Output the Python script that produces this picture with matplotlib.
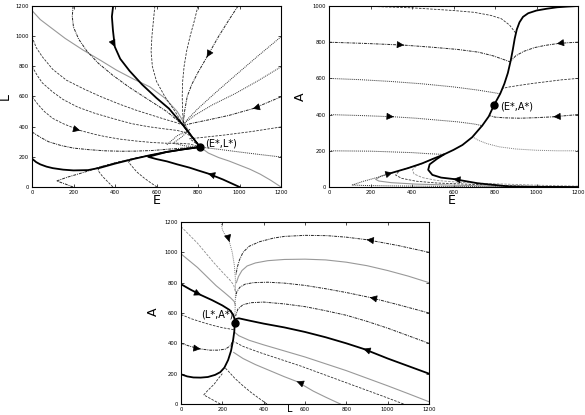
import numpy as np
import matplotlib
matplotlib.use("Agg")
from matplotlib import pyplot as plt

# ----------- data -----------
# panel 1 : E - L plane, equilibrium (E*, L*)
eq_el = (810, 265)
el_gray_top = ([0, 40, 85, 160, 246, 330, 407, 490, 568, 640, 700, 735, 770, 810],
               [1170, 1110, 1063, 985, 908, 840, 775, 715, 664, 590, 500, 420, 335, 265])
el_black_top = ([391, 385, 390, 399, 425, 470, 530, 600, 660, 728, 770, 810],
                [1200, 1130, 1040, 930, 850, 770, 680, 590, 520, 410, 335, 265])
el_dash_198 = ([198, 194, 200, 225, 265, 320, 390, 470, 560, 650, 728, 770, 810],
               [1200, 1130, 1060, 980, 900, 820, 740, 660, 580, 500, 410, 335, 265])
el_dash_592 = ([592, 585, 578, 574, 580, 600, 640, 690, 728, 770, 810],
               [1200, 1100, 1000, 900, 800, 700, 600, 500, 410, 335, 265])
el_dash_800 = ([800, 782, 762, 745, 733, 726, 724, 726, 730, 770, 810],
               [1200, 1100, 1000, 900, 800, 700, 600, 500, 410, 335, 265])
el_dd_993 = ([993, 950, 900, 843, 800, 770, 748, 735, 728, 770, 810],
             [1200, 1110, 1000, 862, 760, 680, 600, 500, 410, 335, 265])
el_r1000 = ([1200, 1090, 980, 880, 800, 750, 728, 770, 810], [996, 870, 740, 620, 520, 450, 410, 335, 265])
el_r800 = ([1200, 1090, 980, 870, 790, 745, 728, 770, 810], [797, 705, 620, 545, 480, 435, 410, 335, 265])
el_r600 = ([1200, 1066, 950, 850, 780, 740, 728, 770, 810], [598, 520, 475, 445, 425, 412, 405, 335, 265])
el_r400 = ([1200, 1060, 930, 830, 760, 790, 810], [398, 368, 345, 330, 320, 290, 265])
el_r200 = ([1200, 1100, 1000, 900, 810], [199, 215, 232, 250, 265])
el_gray_1200 = ([1200, 1150, 1100, 1050, 1000, 950, 900, 850, 810], [0, 45, 85, 118, 145, 172, 195, 225, 265])
el_black_1000 = ([1000, 960, 920, 849, 800, 760, 700, 650, 600, 560, 648, 730, 810],
                 [0, 25, 50, 89, 110, 128, 150, 170, 185, 200, 232, 250, 265])
el_dash_600 = ([602, 570, 540, 505, 465, 487, 560, 648, 730, 810], [0, 30, 60, 100, 165, 188, 208, 232, 250, 265])
el_dash_390 = ([390, 365, 340, 318, 327, 400, 487, 560, 648, 730, 810], [0, 35, 70, 110, 133, 160, 188, 208, 232, 250, 265])
el_dash_v = ([198, 160, 119, 170, 230, 280, 327, 400, 487, 560, 648, 730, 810],
             [0, 20, 40, 65, 89, 110, 133, 160, 188, 208, 232, 250, 265])
el_black_left = ([0, 20, 40, 70, 100, 150, 200, 270, 330, 400, 487, 560, 648, 730, 810],
                 [188, 165, 150, 135, 125, 115, 110, 112, 128, 155, 185, 208, 232, 250, 265])
el_dd_365 = ([0, 40, 80, 140, 200, 270, 350, 430, 500, 580, 650, 730, 810],
             [365, 330, 300, 275, 258, 248, 240, 237, 238, 242, 250, 258, 265])
el_dash_600l = ([0, 30, 60, 100, 150, 231, 300, 350, 420, 500, 580, 650, 710, 760, 810],
                [600, 545, 500, 455, 420, 375, 350, 335, 318, 305, 295, 290, 290, 285, 265])
el_dash_800l = ([0, 25, 50, 100, 150, 220, 300, 400, 480, 560, 640, 700, 740, 780, 810],
                [800, 740, 690, 630, 580, 530, 490, 450, 420, 400, 385, 375, 360, 320, 265])
el_dash_1000l = ([0, 20, 50, 100, 166, 250, 330, 420, 500, 580, 650, 700, 728, 770, 810],
                 [997, 925, 863, 780, 708, 650, 600, 550, 510, 475, 445, 425, 410, 335, 265])
el_dot_knot = ([650, 700, 760, 720, 680, 740, 810], [280, 340, 380, 330, 290, 272, 265])

# panel 2 : E - A plane, equilibrium (E*, A*)
eq_ea = (795, 452)
ea_black_up = ([1200, 1150, 1100, 1050, 1000, 960, 935, 918, 905, 895, 886, 876, 862, 845, 825, 795],
               [1000, 997, 993, 985, 975, 960, 940, 910, 870, 820, 760, 700, 630, 570, 515, 452])
ea_black_low = ([305, 380, 450, 500, 554, 600, 643, 690, 739, 770, 795],
                [79, 104, 131, 155, 180, 205, 232, 275, 340, 390, 452])
ea_top_dash = ([0, 200, 400, 600, 700, 780, 830, 870, 900], [1000, 998, 990, 975, 965, 948, 930, 895, 850])
ea_dd_800l = ([0, 180, 359, 500, 620, 720, 790, 840, 876], [800, 793, 784, 772, 760, 745, 725, 705, 690])
ea_dd_800r = ([1200, 1150, 1099, 1040, 990, 940, 900, 880], [800, 797, 792, 782, 770, 750, 725, 700])
ea_dot_600l = ([0, 150, 300, 450, 600, 720, 790, 825], [600, 593, 583, 570, 553, 535, 522, 515])
ea_dash_600r = ([1200, 1120, 1050, 980, 920, 870, 836], [600, 592, 582, 572, 562, 553, 545])
ea_dot_400l = ([0, 150, 310, 420, 520, 620, 700, 742], [400, 395, 388, 380, 370, 360, 348, 338])
ea_dd_400r = ([1200, 1140, 1083, 1000, 920, 850, 800, 772], [400, 394, 388, 383, 380, 382, 386, 395])
ea_dot_200l = ([0, 200, 400, 480, 554], [200, 198, 190, 184, 180])
ea_gray_200r = ([1200, 1100, 1000, 900, 820, 760, 720, 690], [200, 200, 203, 210, 222, 240, 258, 278])
ea_black_loop = ([1200, 1000, 870, 720, 600, 540, 498, 478, 485, 520, 554],
                 [0, 1, 3, 20, 44, 52, 67, 95, 125, 155, 180])
ea_loop_a = ([1200, 1000, 800, 640, 520, 450, 410, 402, 420, 480, 554],
             [5, 10, 18, 25, 36, 52, 72, 94, 115, 145, 180])
ea_loop_b = ([1100, 900, 700, 520, 420, 350, 321, 340, 400, 450], [0, 6, 14, 22, 32, 48, 66, 90, 112, 131])
ea_loop_c = ([1000, 800, 600, 420, 300, 240, 225, 250, 305], [0, 5, 10, 16, 24, 33, 42, 60, 79])
ea_loop_d = ([900, 700, 500, 300, 180, 112, 161, 240, 305], [0, 2, 4, 6, 8, 11, 30, 55, 79])

# panel 3 : L - A plane, equilibrium (L*, A*)
eq_la = (260, 533)
la_top = ([194, 200, 215, 234, 248, 258, 263, 264, 262, 260], [1200, 1150, 1110, 1070, 1000, 916, 830, 740, 640, 533])
la_gray_1170 = ([0, 40, 80, 120, 160, 200, 235, 255, 263], [1170, 1115, 1060, 995, 930, 870, 820, 785, 740])
la_gray_990 = ([0, 40, 80, 125, 170, 210, 240, 258, 263], [990, 945, 900, 840, 780, 735, 700, 675, 650])
la_black_790 = ([0, 45, 97, 150, 200, 235, 252, 258, 260], [790, 755, 718, 685, 650, 620, 590, 565, 533])
la_dash_590 = ([0, 50, 100, 150, 200, 235, 255], [590, 562, 540, 520, 503, 495, 490])
la_dot_400 = ([0, 45, 94, 140, 180, 215, 240, 252], [400, 380, 363, 355, 355, 362, 385, 420])
la_black_200 = ([0, 30, 60, 95, 130, 165, 190, 210, 228, 242, 252, 258, 260],
                [196, 182, 175, 174, 178, 192, 210, 240, 290, 350, 420, 480, 533])
la_dash_v = ([190, 150, 110, 130, 160, 182, 200], [0, 30, 60, 90, 130, 170, 200])
la_dash_416 = ([416, 380, 340, 300, 260, 230, 215], [0, 35, 75, 120, 170, 215, 236])
la_gray_771 = ([771, 700, 640, 561, 500, 430, 360, 300, 255], [0, 45, 85, 148, 180, 220, 260, 300, 340])
la_dash_1077 = ([1077, 980, 880, 780, 680, 580, 480, 380, 300, 258], [0, 50, 100, 150, 200, 250, 295, 340, 380, 410])
la_gray_1200 = ([1200, 1100, 1000, 900, 800, 700, 600, 500, 400, 330, 280, 262],
                [15, 68, 120, 170, 220, 265, 310, 350, 390, 420, 450, 470])
la_black_r200 = ([1200, 1100, 1000, 884, 800, 700, 600, 500, 400, 330, 280, 265, 260],
                 [200, 250, 300, 363, 400, 440, 475, 505, 530, 550, 565, 560, 533])
la_dd_r400 = ([1200, 1100, 1000, 900, 800, 700, 600, 500, 400, 340, 300, 275, 264],
              [400, 450, 500, 545, 585, 615, 642, 660, 672, 668, 655, 625, 580])
la_dd_r600 = ([1200, 1050, 916, 800, 700, 600, 500, 420, 350, 310, 285, 270, 264],
              [600, 655, 702, 735, 760, 782, 797, 803, 800, 790, 770, 740, 700])
la_gray_r800 = ([1200, 1100, 1000, 900, 800, 700, 600, 500, 420, 360, 320, 295, 278, 268],
                [800, 843, 880, 912, 935, 950, 955, 953, 945, 930, 910, 880, 840, 800])
la_dd_r1000 = ([1200, 1050, 900, 800, 706, 600, 500, 448, 380, 330, 300, 283, 272, 266],
               [1000, 1045, 1083, 1100, 1110, 1112, 1105, 1094, 1070, 1040, 1000, 950, 900, 850])

ticks_x = [0, 200, 400, 600, 800, 1000, 1200]
ticks_1200 = [0, 200, 400, 600, 800, 1000, 1200]
ticks_1000 = [0, 200, 400, 600, 800, 1000]
# -------- end of data -----

STY = {
    "solid": dict(color="black", lw=1.3, ls="-"),
    "gray": dict(color="0.6", lw=0.8, ls="-"),
    "dash": dict(color="0.2", lw=0.6, ls=(0, (3, 1.5))),
    "dot": dict(color="0.2", lw=0.7, ls=(0, (1, 1))),
    "dd": dict(color="0.15", lw=0.7, ls=(0, (3, 1, 1, 1))),
    "gdash": dict(color="0.55", lw=0.6, ls=(0, (3, 1.5))),
    "gdot": dict(color="0.5", lw=0.7, ls=(0, (1, 1))),
}


def draw(ax, curve, style, arrow_at=None):
    xs, ys = curve
    ax.plot(xs, ys, **STY[style])
    if arrow_at is not None:
        i = arrow_at
        x0, y0 = xs[i], ys[i]
        x1, y1 = xs[i + 1], ys[i + 1]
        ax.annotate("", xy=(x0 + 0.02 * (x1 - x0), y0 + 0.02 * (y1 - y0)), xytext=(x0, y0),
                    arrowprops=dict(arrowstyle="-|>", color="black", lw=0.5,
                                    mutation_scale=11, shrinkA=0, shrinkB=0))


def frame(ax, yt, ymax):
    ax.set_xlim(0, 1200)
    ax.set_ylim(0, ymax)
    ax.set_xticks(ticks_x)
    ax.set_yticks(yt)
    ax.tick_params(direction="in", length=2, width=0.5, labelsize=3.8, pad=2,
                   top=True, right=True)
    for s in ax.spines.values():
        s.set_linewidth(0.8)


fig = plt.figure(figsize=(5.85, 4.15), dpi=100)
W, H = 585, 415
ax1 = fig.add_axes([32 / W, (H - 187) / H, 249 / W, 181 / H])
ax2 = fig.add_axes([329 / W, (H - 187) / H, 249 / W, 181 / H])
ax3 = fig.add_axes([181 / W, (H - 404) / H, 248 / W, 182 / H])

# ---- panel 1
draw(ax1, el_gray_top, "gray")
draw(ax1, el_dash_1000l, "dash")
draw(ax1, el_dash_800l, "dash")
draw(ax1, el_dash_600l, "dash", 5)
draw(ax1, el_dd_365, "dd")
draw(ax1, el_dash_198, "dd")
draw(ax1, el_dash_592, "dash")
draw(ax1, el_dash_800, "dash")
draw(ax1, el_dd_993, "dd", 3)
draw(ax1, el_r1000, "dot")
draw(ax1, el_r800, "dot")
draw(ax1, el_r600, "dd", 1)
draw(ax1, el_r400, "dash")
draw(ax1, el_r200, "dot")
draw(ax1, el_gray_1200, "gray")
draw(ax1, el_dash_600, "dash")
draw(ax1, el_dash_390, "dash")
draw(ax1, el_dash_v, "dd")
draw(ax1, el_dot_knot, "dot")
draw(ax1, el_black_left, "solid")
draw(ax1, el_black_1000, "solid", 3)
draw(ax1, el_black_top, "solid", 3)
ax1.plot(*eq_el, "o", color="black", ms=5)
ax1.text(eq_el[0] + 22, eq_el[1] + 25, "(E*,L*)", fontsize=7, va="center")
frame(ax1, ticks_1200, 1200)

# ---- panel 2
draw(ax2, ea_top_dash, "dash")
draw(ax2, ea_dd_800l, "dd", 2)
draw(ax2, ea_dd_800r, "dd", 2)
draw(ax2, ea_dot_600l, "dot")
draw(ax2, ea_dash_600r, "dash")
draw(ax2, ea_dot_400l, "dot", 2)
draw(ax2, ea_dd_400r, "dd", 2)
draw(ax2, ea_dot_200l, "dot")
draw(ax2, ea_gray_200r, "gdot")
draw(ax2, ea_loop_a, "gdash")
draw(ax2, ea_loop_b, "dash")
draw(ax2, ea_loop_c, "gray")
draw(ax2, ea_loop_d, "dot")
draw(ax2, ea_black_loop, "solid", 4)
draw(ax2, ea_black_up, "solid")
draw(ax2, ea_black_low, "solid", 0)
ax2.plot(*eq_ea, "o", color="black", ms=5)
ax2.text(eq_ea[0] + 30, eq_ea[1] - 5, "(E*,A*)", fontsize=7, va="center")
frame(ax2, ticks_1000, 1000)

# ---- panel 3
draw(ax3, la_gray_1170, "gdash")
draw(ax3, la_gray_990, "gray")
draw(ax3, la_dash_590, "dash")
draw(ax3, la_dot_400, "dd", 2)
draw(ax3, la_dash_v, "dash")
draw(ax3, la_dash_416, "dash")
draw(ax3, la_gray_771, "gray", 3)
draw(ax3, la_dash_1077, "dash")
draw(ax3, la_gray_1200, "gray")
draw(ax3, la_dd_r400, "dd")
draw(ax3, la_dd_r600, "dd", 2)
draw(ax3, la_gray_r800, "gray")
draw(ax3, la_dd_r1000, "dd", 2)
draw(ax3, la_top, "gdot", 3)
draw(ax3, la_black_790, "solid", 2)
draw(ax3, la_black_200, "solid")
draw(ax3, la_black_r200, "solid", 3)
ax3.plot(*eq_la, "o", color="black", ms=5)
ax3.text(eq_la[0] - 8, eq_la[1] + 60, "(L*,A*)", fontsize=7, va="center", ha="right")
frame(ax3, ticks_1200, 1200)

# axis labels
fig.text(5 / W, 1 - 97 / H, "L", fontsize=9, ha="center", va="center", rotation=90)
fig.text(157 / W, 1 - 200 / H, "E", fontsize=9, ha="center", va="center")
fig.text(300 / W, 1 - 97 / H, "A", fontsize=9, ha="center", va="center", rotation=90)
fig.text(452 / W, 1 - 200 / H, "E", fontsize=9, ha="center", va="center")
fig.text(153 / W, 1 - 312 / H, "A", fontsize=9, ha="center", va="center", rotation=90)
fig.text(290 / W, 1 / H, "L", fontsize=7, ha="center", va="bottom")

plt.savefig("out.png", dpi=100)
